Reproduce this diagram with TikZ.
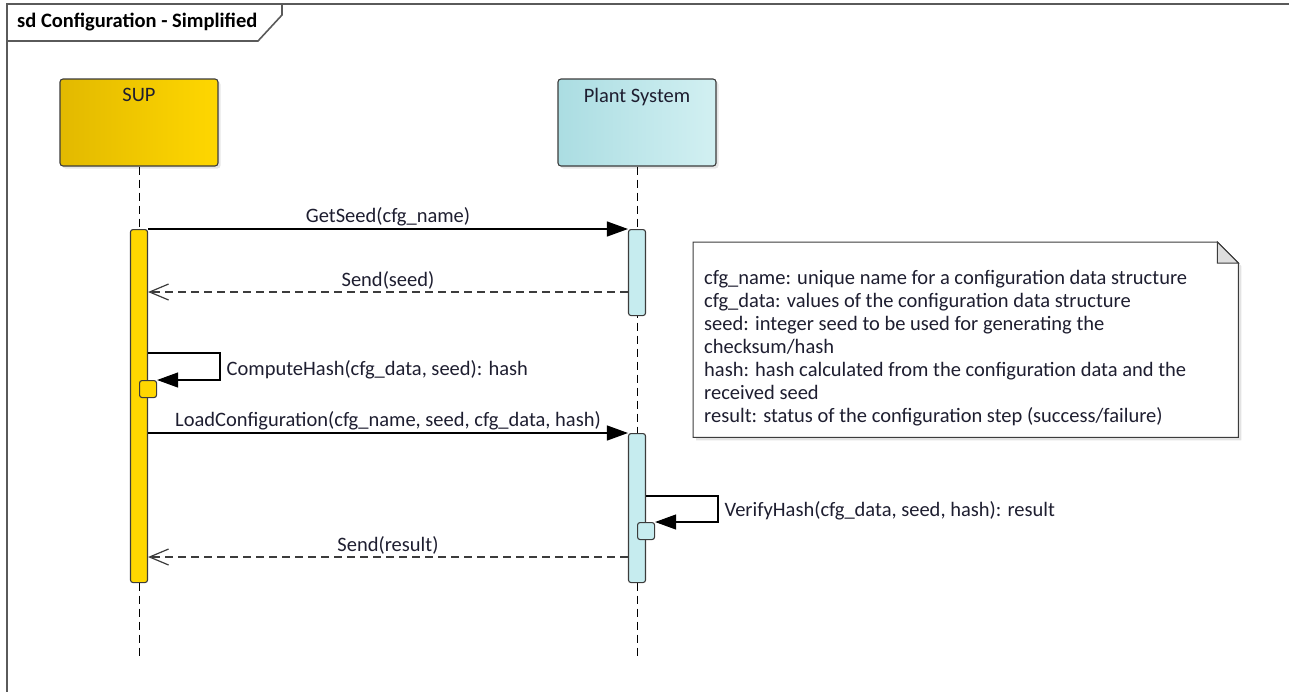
\documentclass[tikz,border=0pt]{standalone}
\usepackage{fontspec}
\setmainfont{Carlito}
\usepackage{xcolor}
\definecolor{supgold}{HTML}{FFD700}
\definecolor{supochre}{HTML}{E2B900}
\definecolor{plantcyan}{HTML}{C6ECEF}
\definecolor{plantteal}{HTML}{ABDDE2}
\definecolor{plantpale}{HTML}{D2F0F2}
\definecolor{edgegray}{HTML}{3C3C3C}
\definecolor{framegray}{HTML}{5A5A5A}
\definecolor{inkblue}{HTML}{1E1E30}
\definecolor{foldgray}{HTML}{DEDEDE}
\usetikzlibrary{arrows.meta, positioning, shadows}

\begin{document}
\begin{tikzpicture}[
        x=1pt, y={(0pt,-1pt)},
        font=\fontsize{20.5}{23}\selectfont, text=inkblue,
        head/.style={draw=edgegray, line width=1.1pt, rounded corners=3pt, minimum width=158pt, minimum height=87pt, inner sep=0pt, drop shadow={opacity=0.2, shadow xshift=2.5pt, shadow yshift=-2.5pt}},
        headname/.style={inner sep=0pt},
        bar/.style={draw=edgegray, line width=1.1pt, rounded corners=2.5pt, minimum width=17pt, inner sep=0pt},
        selfbox/.style={bar, minimum height=17pt},
        lifeline/.style={draw=black, line width=1pt, dash pattern=on 8pt off 5pt},
        call/.style={-{Triangle[length=21pt, width=15pt]}, line width=1.2pt, draw=black},
        reply/.style={-{Straight Barb[length=19pt, width=16pt, line width=1.2pt]}, line width=1.2pt, dash pattern=on 8pt off 5pt, draw=edgegray},
        msg/.style={inner sep=2pt},
        frame/.style={draw=framegray, line width=1.6pt},
        notebody/.style={draw=edgegray, line width=1pt, fill=white, drop shadow={opacity=0.22, shadow xshift=3pt, shadow yshift=-3pt}}
    ]
    \useasboundingbox (0,0) rectangle (1289,691);

    % Diagram frame and its name tab
    \draw[frame] (7,700) -- (7,4) -- (1295,4);
    \draw[frame] (7,41) -- (258,41) -- (282,15) -- (282,4);
    \node[anchor=west, inner sep=0pt, font=\fontsize{20.5}{23}\selectfont\bfseries, text=black] (title) at (17,22) {sd Configuration - Simplified};

    % Lifeline heads
    \node[head, left color=supochre, right color=supgold] (sup) at (139,122.5) {};
    \node[headname, below=10pt of sup.north] (supName) {SUP};
    \node[head, left color=plantteal, right color=plantpale] (plant) at (637,122.5) {};
    \node[headname, below=10pt of plant.north] (plantName) {Plant System};

    % Message rows
    \coordinate (rowSeed) at (0,292);
    \coordinate (rowHash) at (0,353);
    \coordinate (rowLoad) at (0,433);
    \coordinate (rowVerify) at (0,496);
    \coordinate (rowResult) at (0,557);
    \coordinate (lifeEnd) at (0,657);

    % Lifelines
    \draw[lifeline] (sup.south) -- (sup.south |- lifeEnd);
    \draw[lifeline] (plant.south) -- (plant.south |- lifeEnd);

    % Activations
    \node[bar, fill=supgold, minimum height=353pt, anchor=north] (supBar) at (139,229) {};
    \node[bar, fill=plantcyan, minimum height=86pt, anchor=north] (plantBarA) at (637,229) {};
    \node[bar, fill=plantcyan, minimum height=149pt, anchor=north] (plantBarB) at (637,433) {};
    \node[selfbox, fill=supgold, anchor=north west] (supSelf) at (139,380) {};
    \node[selfbox, fill=plantcyan, anchor=north west] (plantSelf) at (637,522) {};

    % Messages
    \draw[call] (supBar.north east) -- node[msg, above] {GetSeed(cfg\_name)} (plantBarA.north west);
    \draw[reply] (plantBarA.west |- rowSeed) -- node[msg, above, text=inkblue] {Send(seed)} (supBar.east |- rowSeed);
    \draw[call] (supBar.east |- rowHash) -- ++(72,0) |- node[pos=0.25, right, inner sep=6pt, yshift=-3pt] {ComputeHash(cfg\_data, seed): hash} (supSelf.north east);
    \draw[call] (supBar.east |- rowLoad) -- node[msg, above] {LoadConfiguration(cfg\_name, seed, cfg\_data, hash)} (plantBarB.north west);
    \draw[call] (plantBarB.east |- rowVerify) -- ++(72,0) |- node[pos=0.25, right, inner sep=6pt, yshift=-2pt] {VerifyHash(cfg\_data, seed, hash): result} (plantSelf.north east);
    \draw[reply] (plantBarB.west |- rowResult) -- node[msg, above] {Send(result)} (supBar.east |- rowResult);

    % Note with folded corner
    \node[anchor=north west, minimum width=545pt, minimum height=195pt, inner sep=0pt] (note) at (693,242) {};
    \draw[notebody] (note.south west) -- (note.north west) -- ([xshift=-21pt]note.north east) -- ([yshift=-21pt]note.north east) -- (note.south east) -- cycle;
    \draw[draw=edgegray, line width=1pt, fill=foldgray] ([xshift=-21pt]note.north east) -- ([xshift=-21pt, yshift=-21pt]note.north east) -- ([yshift=-21pt]note.north east) -- cycle;
    \node[anchor=north west, align=left, inner sep=0pt] (noteText) at ([xshift=11pt, yshift=-28pt]note.north west) {cfg\_name: unique name for a configuration data structure\\
        cfg\_data: values of the configuration data structure\\
        seed: integer seed to be used for generating the\\
        checksum/hash\\
        hash: hash calculated from the configuration data and the\\
        received seed\\
        result: status of the configuration step (success/failure)};

\end{tikzpicture}
\end{document}
